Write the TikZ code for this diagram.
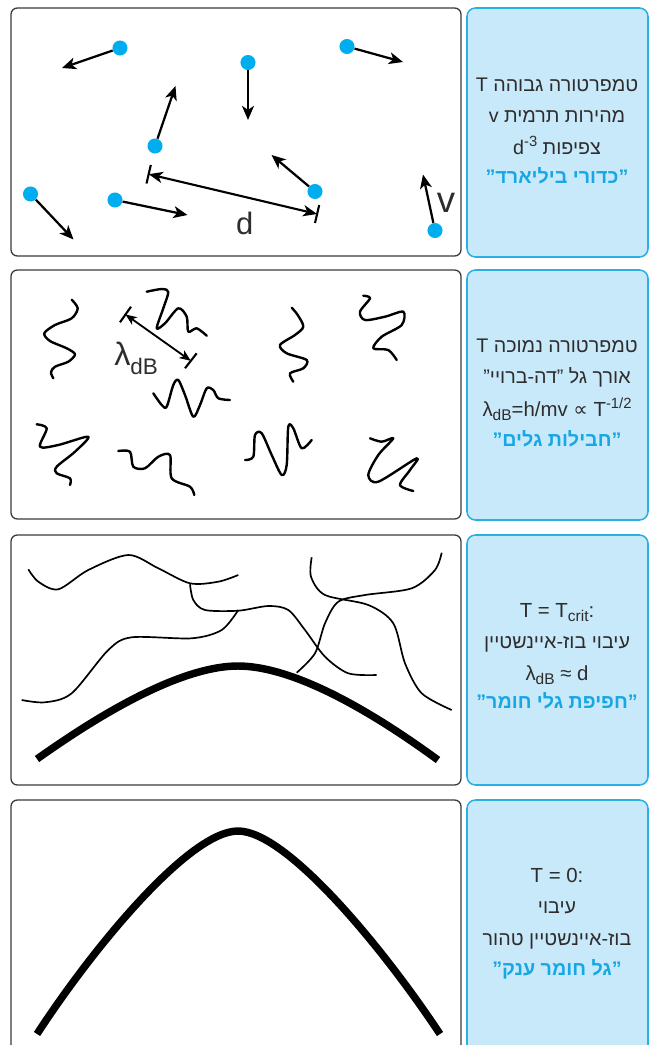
\documentclass[tikz,border=0pt]{standalone}
\usepackage{fontspec}
\setmainfont{Liberation Sans}
\newfontfamily\hebfont[Script=Hebrew]{Liberation Sans}
\newfontfamily\symfont{DejaVu Sans}
\usetikzlibrary{arrows.meta}
\TeXXeTstate=1

\definecolor{ballcyan}{HTML}{00AEEF}
\definecolor{boxfill}{HTML}{C8E9F9}
\definecolor{boxcyan}{HTML}{2BB0E6}
\definecolor{tagblue}{HTML}{17A7E4}
\definecolor{textgray}{HTML}{2E2C2D}
\definecolor{framegray}{HTML}{3A3A3A}

\newcommand{\upidx}[1]{\raisebox{5.5pt}{\rmfamily\fontsize{10.5}{11}\selectfont #1}}
\newcommand{\dnidx}[1]{\raisebox{-3pt}{\rmfamily\fontsize{11}{12}\selectfont #1}}

\tikzset{
  panel/.style={draw=framegray, line width=0.9pt, rounded corners=4.5pt},
  infobox/.style={draw=boxcyan, fill=boxfill, line width=1.1pt, rounded corners=6pt},
  ball/.style={circle, fill=ballcyan, inner sep=0pt, minimum size=10.7pt},
  move/.style={line width=1.6pt, -{Stealth[length=10pt, width=8.5pt, inset=2.8pt]}},
  dimline/.style={line width=1.5pt, {Stealth[length=10pt, width=8pt, inset=2.8pt]}-{Stealth[length=10pt, width=8pt, inset=2.8pt]}},
  wavedim/.style={line width=1.3pt, {Stealth[length=8pt, width=6.5pt, inset=2.2pt]}-{Stealth[length=8pt, width=6.5pt, inset=2.2pt]}},
  endbar/.style={line width=1.5pt},
  wave/.style={line width=1.7pt, line cap=round, line join=round},
  thread/.style={line width=1.2pt},
  matter/.style={line width=5.3pt},
  heb/.style={font=\hebfont\fontsize{14}{16}\selectfont, text=textgray, anchor=base, inner sep=0pt},
  formula/.style={font=\fontsize{14.5}{16}\selectfont, text=textgray, anchor=base, inner sep=0pt},
  tag/.style={font=\hebfont\bfseries\fontsize{14}{16}\selectfont, text=tagblue, anchor=base, inner sep=0pt},
  biglabel/.style={text=textgray, anchor=base, inner sep=0pt},
}

\begin{document}
\begin{tikzpicture}[x=0.025cm, y=-0.025cm]

    \useasboundingbox (0,0) rectangle (649,1045);
    %\draw [help lines, step=50] (0,0) grid (649,1045);

    % frames
    \draw[panel] (11,8) rectangle (461,256);
    \draw[panel] (11,270) rectangle (461,519);
    \draw[panel] (11,535) rectangle (461,785);
    \draw[panel] (11,800) rectangle (461,1060);
    \draw[infobox] (467,8) rectangle (648,257);
    \draw[infobox] (467,270) rectangle (648,520);
    \draw[infobox] (467,535) rectangle (648,785);
    \draw[infobox] (467,800) rectangle (648,1060);

    % high temperature: billiard balls
    \path   (120,48) node (b1) [ball] {}
            (248,62.5) node (b2) [ball] {}
            (347,46.5) node (b3) [ball] {}
            (155,146) node (b4) [ball] {}
            (315,191.5) node (b5) [ball] {}
            (30.5,194) node (b6) [ball] {}
            (115,200) node (b7) [ball] {}
            (435,230.5) node (b8) [ball] {};

    \path   (62,68) coordinate (v1)
            (248,120) coordinate (v2)
            (403,62) coordinate (v3)
            (175.5,86) coordinate (v4)
            (271.5,155) coordinate (v5)
            (73.5,239.5) coordinate (v6)
            (187.5,215) coordinate (v7)
            (423,174.5) coordinate (v8);

    \draw[move] (b1) -- (v1);
    \draw[move] (b2) -- (v2);
    \draw[move] (b3) -- (v3);
    \draw[move] (b4) -- (v4);
    \draw[move] (b5) -- (v5);
    \draw[move] (b6) -- (v6);
    \draw[move] (b7) -- (v7);
    \draw[move] (b8) -- (v8);

    \path   (146.5,183.5) coordinate (dla)
            (150.8,165) coordinate (dlb)
            (148.7,174.2) coordinate (dl)
            (315,223) coordinate (dra)
            (319.2,205) coordinate (drb)
            (317.1,214) coordinate (dr);
    \draw[endbar] (dla) -- (dlb);
    \draw[endbar] (dra) -- (drb);
    \draw[dimline] (dl) -- (dr);

    \node (dtxt) [biglabel, font=\fontsize{22}{24}\selectfont] at (244.7,234.3) {d};
    \node (vtxt) [biglabel, font=\fontsize{26}{28}\selectfont] at (446,212.3) {v};

    % low temperature: wave packets
    \draw[wave] plot[smooth] coordinates {(71.7,299.7) (77.7,308.3) (71.7,318.3) (55,325) (44.3,333.3) (50,341) (66.7,348.3) (75,354.3) (68.3,361.7) (55,366.7) (51,372.3) (53.3,378.3)};
    \draw[wave] plot[smooth] coordinates {(146.7,291.7) (162,289) (168.3,292) (163.3,308.3) (156.7,328.3) (165,323.3) (178.3,308.3) (186.7,316.7) (188.3,331.7) (196.7,328.3) (206.7,335.7)};
    \draw[wave] plot[smooth] coordinates {(153.3,393.3) (161.7,405) (166.7,406.7) (173.3,385) (178.3,380) (185,395) (193.3,416.7) (200,405) (206.7,388.3) (213.3,390) (218.3,398.3) (230,400)};
    \draw[wave] plot[smooth] coordinates {(291.7,307.7) (297.7,315) (303.3,326.7) (295,335) (280,345) (286.7,353.3) (306.7,360) (303.3,368.3) (290,373.3) (293.3,381.7)};
    \draw[wave] plot[smooth] coordinates {(363.3,295.7) (370,298.3) (360,311.7) (365,320) (385,316.7) (403.3,311.7) (401.7,325) (381.7,336.7) (373.3,348.3) (388.3,350) (396.7,360)};
    \draw[wave] plot[smooth] coordinates {(36.7,424.3) (46.7,428.3) (40,446.7) (58.3,445) (88.3,436.7) (75,451.7) (56.7,466.7) (56.7,473.3) (70,478.3) (70,485)};
    \draw[wave] plot[smooth] coordinates {(118.3,451) (130,451.7) (133.3,466.7) (145,468.3) (158.3,456.7) (170,455) (171.7,478.3) (190,486.7) (194.3,495)};
    \draw[wave] plot[smooth] coordinates {(245,460) (253.3,456.7) (255,435) (261.7,433.3) (271.7,455) (281.7,475) (286.7,465) (288.3,426.7) (293.3,428.3) (301.7,448.3) (311.7,440)};
    \draw[wave] plot[smooth] coordinates {(370,438.3) (381.7,441.7) (393.3,438.3) (378.3,455) (368.3,475) (378.3,481.7) (416.7,458.3) (410,470) (400,485) (413.3,491)};

    \path   (120,322.3) coordinate (la)
            (131,306.7) coordinate (lb)
            (125.5,314.5) coordinate (ll)
            (185,368.3) coordinate (ra)
            (196.7,353.3) coordinate (rb)
            (190.8,360.8) coordinate (lr);
    \draw[endbar] (la) -- (lb);
    \draw[endbar] (ra) -- (rb);
    \draw[wavedim] (ll) -- (lr);

    \node (ltxt) [biglabel, anchor=base west, font=\fontsize{23}{25}\selectfont] at (114,365)
        {λ\raisebox{-7pt}{\fontsize{16}{17}\selectfont dB}};

    % critical temperature: overlapping matter waves
    \draw[thread] plot[smooth] coordinates {(28.3,569.3) (38.3,581.7) (58.3,589.3) (88.3,570) (128.3,555) (158.3,568.3) (190,583.3) (218.3,581.7) (238.3,575)};
    \draw[thread] plot[smooth] coordinates {(190,584.3) (193.3,600) (205,610) (238.3,610.7) (268.3,606) (288.3,610) (305,630) (325,656.7) (348.3,673.3) (376.7,675)};
    \draw[thread] plot[smooth] coordinates {(238.3,610) (221.7,630) (191.7,638.3) (131.7,637.3) (108.3,650) (71.7,693.3) (45,702.3) (21.7,700)};
    \draw[thread] plot[smooth] coordinates {(311.7,557.3) (311,576.7) (325,595) (368.3,605) (393.3,623.3) (405,663.3) (421.7,693.3) (451.7,710)};
    \draw[thread] plot[smooth] coordinates {(441.7,552.7) (435,570) (411.7,588.3) (365,595) (338.3,601.7) (325,623.3) (315,653.3) (296.7,672.7)};
    \draw[matter] (37,759) .. controls (120,700) and (190,666) .. (238,666)
                           .. controls (286,666) and (356,700) .. (438,760);

    % zero temperature: one giant matter wave
    \draw[matter] (37,1034) .. controls (95,945) and (190,831) .. (238,831)
                            .. controls (286,831) and (381,945) .. (440,1034);

    % captions
    \path   (557,92) node (c1a) [heb] {\beginR טמפרטורה גבוהה T\endR}
            (557,122.5) node (c1b) [heb] {\beginR מהירות תרמית v\endR}
            (557,154) node (c1c) [heb] {\beginR צפיפות \beginL d\upidx{-3}\endL\endR}
            (557,183) node (c1d) [tag] {\beginR ”כדורי ביליארד”\endR};

    \path   (557,352) node (c2a) [heb] {\beginR טמפרטורה נמוכה T\endR}
            (557,383) node (c2b) [heb] {\beginR אורך גל ”דה-ברויי”\endR}
            (557,416.5) node (c2c) [formula] {λ\dnidx{dB}=h/mv {\symfont ∝} T\upidx{-1/2}}
            (557,446) node (c2d) [tag] {\beginR ”חבילות גלים”\endR};

    \path   (557,617) node (c3a) [formula] {T = T\dnidx{crit}:}
            (557,648) node (c3b) [heb] {\beginR עיבוי בוז-איינשטיין\endR}
            (557,680) node (c3c) [formula] {λ\dnidx{dB} ≈ d}
            (557,708) node (c3d) [tag] {\beginR ”חפיפת גלי חומר”\endR};

    \path   (557,882) node (c4a) [formula] {T = 0:}
            (557,913) node (c4b) [heb] {\beginR עיבוי\endR}
            (557,945) node (c4c) [heb] {\beginR בוז-איינשטיין טהור\endR}
            (557,975) node (c4d) [tag] {\beginR ”גל חומר ענק”\endR};

\end{tikzpicture}
\end{document}
